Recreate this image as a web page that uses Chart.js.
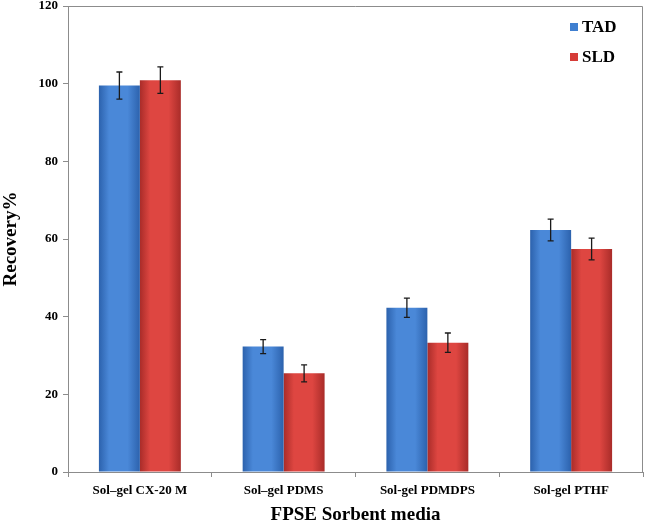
<!DOCTYPE html>
<html>
<head>
<meta charset="utf-8">
<script src="https://cdn.jsdelivr.net/npm/chart.js@4.4.1/dist/chart.umd.min.js"></script>
<style>
    html, body { margin: 0; padding: 0; background: #ffffff; }
    #wrap { width: 645px; height: 526px; }
</style>
</head>
<body>
<div id="wrap"><canvas id="recoveryChart" width="645" height="526"></canvas></div>
<script>
const categories = ['Sol–gel CX-20 M', 'Sol–gel PDMS', 'Sol-gel PDMDPS', 'Sol-gel PTHF'];
const seriesNames = ['TAD', 'SLD'];
const tadValues = [99.5, 32.3, 42.3, 62.3];
const tadErrors = [3.5, 1.8, 2.5, 2.8];
const sldValues = [100.9, 25.4, 33.3, 57.4];
const sldErrors = [3.4, 2.2, 2.5, 2.8];
const yTicks = [0, 20, 40, 60, 80, 100, 120];

const serif = "'Liberation Serif', 'Times New Roman', serif";
const groupFrac = 0.57;

// horizontal shading per bar, like the 3D look of the original
function barFill(light, dark, seriesIdx) {
    return function (ctx) {
        const chart = ctx.chart;
        const xs = chart.scales.x;
        if (!chart.chartArea || !xs || ctx.dataIndex === undefined) return light;
        const center = xs.getPixelForValue(ctx.dataIndex);
        const w = xs.width / categories.length * groupFrac / 2;
        const left = seriesIdx === 0 ? center - w : center;
        const g = chart.ctx.createLinearGradient(left, 0, left + w, 0);
        g.addColorStop(0, dark);
        g.addColorStop(0.25, light);
        g.addColorStop(0.7, light);
        g.addColorStop(1, dark);
        return g;
    };
}

const errorBars = {
    id: 'errorBars',
    afterDatasetsDraw(chart) {
        const c = chart.ctx;
        const y = chart.scales.y;
        const errs = [tadErrors, sldErrors];
        c.save();
        c.strokeStyle = '#1a1a1a';
        c.lineWidth = 1.3;
        chart.data.datasets.forEach((ds, i) => {
            chart.getDatasetMeta(i).data.forEach((bar, j) => {
                const top = y.getPixelForValue(ds.data[j] + errs[i][j]);
                const bot = y.getPixelForValue(ds.data[j] - errs[i][j]);
                c.beginPath();
                c.moveTo(bar.x, top); c.lineTo(bar.x, bot);
                c.moveTo(bar.x - 3, top); c.lineTo(bar.x + 3, top);
                c.moveTo(bar.x - 3, bot); c.lineTo(bar.x + 3, bot);
                c.stroke();
            });
        });
        c.restore();
    }
};

const frameAndLegend = {
    id: 'frameAndLegend',
    afterDraw(chart) {
        const c = chart.ctx;
        const a = chart.chartArea;
        c.save();
        c.strokeStyle = '#8c8c8c';
        c.lineWidth = 1;
        c.beginPath();
        c.moveTo(a.left, a.top + 0.5);
        c.lineTo(a.right - 0.5, a.top + 0.5);
        c.lineTo(a.right - 0.5, a.bottom);
        c.stroke();

        const colors = ['#3f7fd0', '#d63c38'];
        c.font = 'bold 17px ' + serif;
        c.textBaseline = 'middle';
        seriesNames.forEach((name, i) => {
            const yy = 27 + i * 30;
            c.fillStyle = colors[i];
            c.fillRect(570, yy - 4, 8, 8);
            c.fillStyle = '#000';
            c.fillText(name, 582, yy + 1);
        });
        c.restore();
    }
};

new Chart(document.getElementById('recoveryChart'), {
    type: 'bar',
    data: {
        labels: categories,
        datasets: [
            {
                label: seriesNames[0],
                data: tadValues,
                backgroundColor: barFill('#4a88d8', '#2c62ad', 0),
                categoryPercentage: groupFrac,
                barPercentage: 1
            },
            {
                label: seriesNames[1],
                data: sldValues,
                backgroundColor: barFill('#de4641', '#a92c29', 1),
                categoryPercentage: groupFrac,
                barPercentage: 1
            }
        ]
    },
    options: {
        responsive: false,
        animation: false,
        layout: { padding: { top: 6, right: 2, left: 0, bottom: 0 } },
        plugins: {
            legend: { display: false },
            tooltip: { enabled: false }
        },
        scales: {
            x: {
                offset: true,
                grid: { display: true, drawOnChartArea: false, offset: true, tickLength: 5, color: '#8c8c8c' },
                border: { display: true, color: '#8c8c8c' },
                ticks: { color: '#000', padding: 6, font: { family: serif, size: 13, weight: 'bold' } },
                title: {
                    display: true,
                    text: 'FPSE Sorbent media',
                    color: '#000',
                    padding: { top: 0, bottom: 0 },
                    font: { family: serif, size: 19, weight: 'bold' }
                },
                afterFit(s) { s.height = 54; s.paddingLeft = 0; s.paddingRight = 0; }
            },
            y: {
                min: 0,
                max: 120,
                afterBuildTicks(s) { s.ticks = yTicks.map(v => ({ value: v })); },
                grid: { display: true, drawOnChartArea: false, tickLength: 5, color: '#8c8c8c' },
                border: { display: true, color: '#8c8c8c' },
                ticks: { color: '#000', padding: 5, font: { family: serif, size: 13, weight: 'bold' } },
                title: {
                    display: true,
                    text: 'Recovery%',
                    color: '#000',
                    padding: { top: 0, bottom: 0 },
                    font: { family: serif, size: 19, weight: 'bold' }
                },
                afterFit(s) { s.width = 68; s.paddingTop = 0; s.paddingBottom = 0; }
            }
        }
    },
    plugins: [errorBars, frameAndLegend]
});
</script>
</body>
</html>
